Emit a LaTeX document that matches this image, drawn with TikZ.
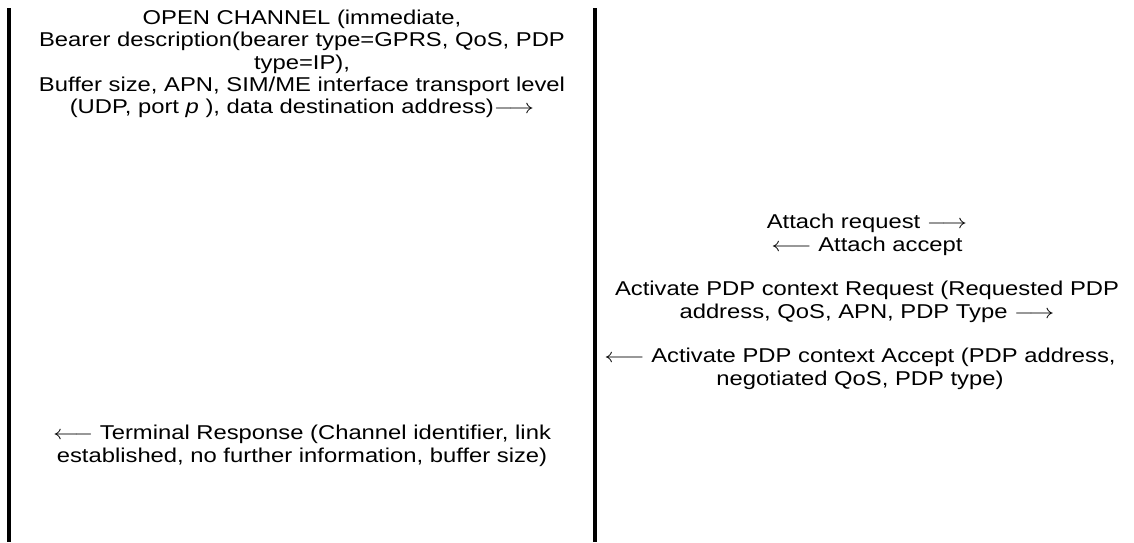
\documentclass[tikz,border=0pt]{standalone}
\usepackage{fontspec}
\setmainfont{Liberation Sans}[FakeStretch=1.19]
\usepackage{graphicx}
\usepackage{tikz}
\usetikzlibrary{positioning}

\newcommand{\rarr}{\scalebox{1.25}[1]{$\longrightarrow$}}
\newcommand{\larr}{\scalebox{1.25}[1]{$\longleftarrow$}}

\begin{document}
\begin{tikzpicture}[x=0.5pt, y=-0.5pt,
        msg/.style={align=center, inner sep=0pt,
            font=\fontsize{10}{11.2}\selectfont},
        lifeline/.style={draw=black, line width=2pt}]
        \useasboundingbox (0,0) rectangle (1134,542);

        % the two lifelines
        \coordinate (simtop) at (9,8);
        \coordinate (simbot) at (9,542);
        \coordinate (metop) at (595,8);
        \coordinate (mebot) at (595,542);
        \draw[lifeline] (simtop) -- (simbot);
        \draw[lifeline] (metop) -- (mebot);

        \node[msg] (open) at (302,64)
        {OPEN CHANNEL (immediate,\\
        Bearer description(bearer type=GPRS, QoS, PDP\\
        type=IP),\\
        Buffer size, APN, SIM/ME interface transport level\\
        (UDP, port \textit{p} ), data destination address)\rarr};

        \node[msg] (attach) at (867,235)
        {Attach request \rarr\\
        \larr{} Attach accept};

        \node[msg] (actreq) at (867,302)
        {Activate PDP context Request (Requested PDP\\
        address, QoS, APN, PDP Type \rarr};

        \node[msg] (actacc) at (860,369)
        {\larr{} Activate PDP context Accept (PDP address,\\
        negotiated QoS, PDP type)};

        \node[msg] (termresp) at (302,446)
        {\larr{} Terminal Response (Channel identifier, link\\
        established, no further information, buffer size)};
\end{tikzpicture}
\end{document}
